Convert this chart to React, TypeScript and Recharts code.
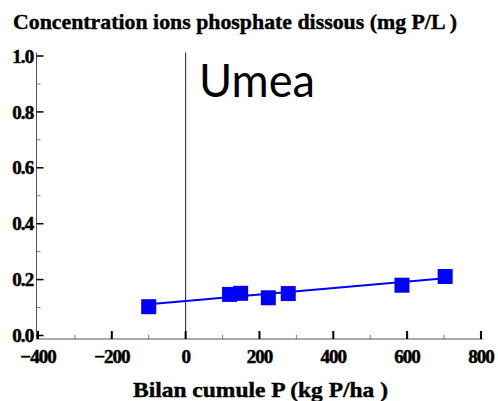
import React from 'react';
import { ScatterChart, Scatter, XAxis, YAxis, ReferenceLine } from 'recharts';

// Measured points (Bilan cumule P, concentration)
const balanceP = [-100, 119, 149, 224, 278, 586, 703];
const concentration = [0.103, 0.147, 0.151, 0.135, 0.15, 0.18, 0.211];

// Fitted line end points
const fitX = [-100, 703];
const fitY = [0.112, 0.205];

const xMajorTicks = [-400, -200, 0, 200, 400, 600, 800];
const xMinorTicks = [-300, -100, 100, 300, 500, 700];
const yMajorTicks = [0, 0.2, 0.4, 0.6, 0.8, 1.0];
const yMinorTicks = [0.1, 0.3, 0.5, 0.7, 0.9];

const points = balanceP.map((x, i) => ({ x, y: concentration[i] }));
const fitLine = fitX.map((x, i) => ({ x, y: fitY[i] }));

const SERIF = '"Liberation Serif", "Times New Roman", serif';
const BLUE = '#0000ff';

function formatX(v: number) {
  return v < 0 ? `\u2212${Math.abs(v)}` : String(v);
}

function XTick({ x, y, payload }: any) {
  const v = payload.value;
  const major = xMajorTicks.includes(v);
  return (
    <g>
      <line
        x1={x}
        x2={x}
        y1={y}
        y2={y - (major ? 8 : 4)}
        stroke={major ? '#000' : '#777'}
        strokeWidth={major ? 2 : 1}
      />
      {major && (
        <text
          x={x}
          y={y + 24}
          textAnchor="middle"
          fontFamily={SERIF}
          fontWeight="bold"
          fontSize={19}
          letterSpacing={-1}
          fill="#000"
          stroke="#000"
          strokeWidth={0.5}
        >
          {formatX(v)}
        </text>
      )}
    </g>
  );
}

function YTick({ x, y, payload }: any) {
  const v = payload.value;
  const major = yMajorTicks.includes(v);
  return (
    <g>
      <line
        x1={x}
        x2={x + (major ? 7 : 4)}
        y1={y}
        y2={y}
        stroke={major ? '#000' : '#777'}
        strokeWidth={major ? 1.5 : 1}
      />
      {major && (
        <text
          x={x - 3}
          y={y}
          dy="0.35em"
          textAnchor="end"
          fontFamily={SERIF}
          fontWeight="bold"
          fontSize={19}
          letterSpacing={-0.8}
          fill="#000"
          stroke="#000"
          strokeWidth={0.5}
        >
          {v.toFixed(1)}
        </text>
      )}
    </g>
  );
}

function Square(props: any) {
  const { cx, cy } = props;
  return <rect x={cx - 7.5} y={cy - 7.5} width={15} height={15} fill={BLUE} />;
}

export default function App() {
  return (
    <div style={{ position: 'absolute', left: 0, top: 0, width: 498, height: 401, background: '#fff' }}>
      <ScatterChart
        width={498}
        height={401}
        margin={{ top: 52.5, right: 15.2, bottom: 61, left: 35.5 }}
      >
        <XAxis
          dataKey="x"
          type="number"
          domain={[-404, 805]}
          allowDataOverflow
          ticks={[...xMajorTicks, ...xMinorTicks].sort((a, b) => a - b)}
          interval={0}
          tickSize={0}
          tickMargin={0}
          tickLine={false}
          tick={XTick}
          axisLine={{ stroke: '#555' }}
          height={1}
        />
        <YAxis
          dataKey="y"
          type="number"
          domain={[-0.0125, 1.0125]}
          allowDataOverflow
          ticks={[...yMajorTicks, ...yMinorTicks].sort((a, b) => a - b)}
          interval={0}
          tickSize={0}
          tickMargin={0}
          tickLine={false}
          tick={YTick}
          axisLine={{ stroke: '#555' }}
          width={1}
        />
        <ReferenceLine x={0} stroke="#222" strokeWidth={1} />
        <Scatter
          data={fitLine}
          line={{ stroke: BLUE, strokeWidth: 2 }}
          shape={() => <g />}
          isAnimationActive={false}
        />
        <Scatter data={points} shape={Square} isAnimationActive={false} />
      </ScatterChart>

      <svg
        width={498}
        height={401}
        style={{ position: 'absolute', left: 0, top: 0, pointerEvents: 'none' }}
      >
        <text
          x={13}
          y={29}
          fontFamily={SERIF}
          fontWeight="bold"
          fontSize={21}
          textLength={444}
          lengthAdjust="spacingAndGlyphs"
          fill="#000"
          stroke="#000"
          strokeWidth={0.4}
        >
          Concentration ions phosphate dissous (mg P/L )
        </text>
        <text
          x={133}
          y={396.5}
          fontFamily={SERIF}
          fontWeight="bold"
          fontSize={21}
          textLength={255}
          lengthAdjust="spacingAndGlyphs"
          fill="#000"
          stroke="#000"
          strokeWidth={0.4}
        >
          Bilan cumule P (kg P/ha )
        </text>
        <text
          x={199}
          y={96.7}
          fontFamily='Lato, "Open Sans", sans-serif'
          fontSize={46}
          textLength={116}
          lengthAdjust="spacingAndGlyphs"
          fill="#000"
        >
          Umea
        </text>
      </svg>
    </div>
  );
}
